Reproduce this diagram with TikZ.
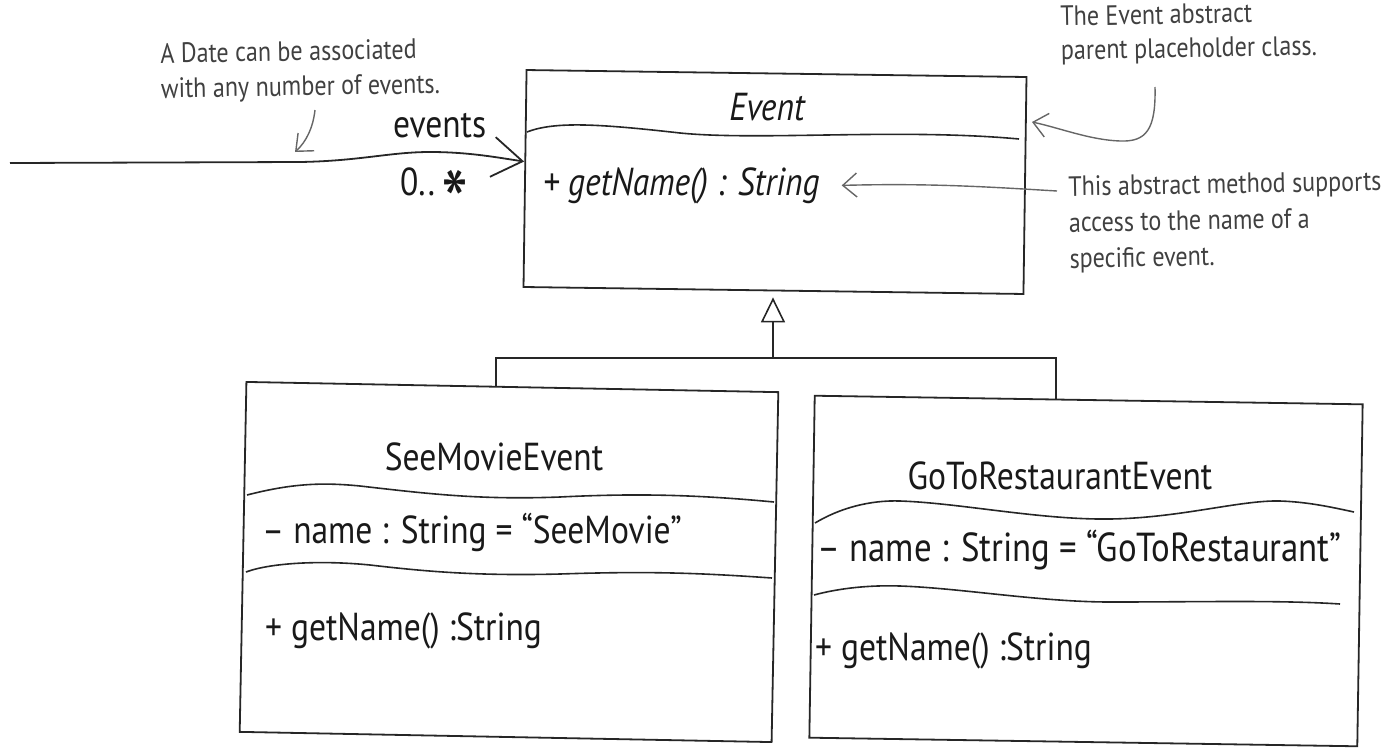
\documentclass[tikz,border=0pt]{standalone}
\usepackage{fontspec}
\usepackage{graphicx}
\setmainfont{PT Sans}[FakeStretch=0.86]
\usetikzlibrary{arrows.meta,calc}

\begin{document}
\begin{tikzpicture}[x=1pt, y=-1pt,
    classbox/.style={draw=black!85, line width=1.8pt, inner sep=0pt},
    sepline/.style={draw=black!85, line width=1.6pt},
    classtext/.style={inner sep=0pt, text=black!90, font=\fontsize{39}{45}\selectfont},
    abstext/.style={classtext, font=\itshape\fontsize{39}{45}\selectfont},
    notetext/.style={inner sep=0pt, anchor=north west, align=left, text=black!75, font=\fontsize{28}{35}\selectfont},
    noteline/.style={draw=black!60, line width=1.4pt, -{Straight Barb[length=14pt,width=24pt]}},
    umlline/.style={draw=black!85, line width=1.8pt},
  ]
  \useasboundingbox (0,0) rectangle (1395,750);

  % Event (abstract)
  \node[classbox, minimum width=500pt, minimum height=217pt, rotate=-0.8] (evt) at (775,182) {};
  \draw[sepline] (527,132) .. controls (555,121) and (600,124) .. (680,133)
    .. controls (760,141) and (900,128) .. (1019,139);
  \node[abstext, anchor=base] (evtname) at (767,120) {Event};
  \node[abstext, anchor=base west] (evtop) at (543,195) {+ getName() : String};

  % SeeMovieEvent
  \node[classbox, minimum width=532pt, minimum height=350pt, rotate=-1.1] (movie) at (509,562) {};
  \draw[sepline] (247,495) .. controls (290,484) and (320,482) .. (360,486)
    .. controls (430,494) and (480,500) .. (560,497) .. controls (640,493) and (700,495) .. (774,502);
  \draw[sepline] (246,572) .. controls (270,563) and (320,560) .. (370,565)
    .. controls (430,572) and (480,576) .. (560,574) .. controls (650,571) and (700,573) .. (772,578);
  \node[classtext, anchor=base] (moviename) at (494,470) {SeeMovieEvent};
  \node[classtext, anchor=base west] (movieattr) at (262,543) {– name : String = “SeeMovie”};
  \node[classtext, anchor=base west] (movieop) at (265,640) {+ getName() :String};

  % GoToRestaurantEvent
  \node[classbox, minimum width=548pt, minimum height=342pt, rotate=-0.9] (rest) at (1086,571) {};
  \draw[sepline] (815,523) .. controls (840,508) and (870,500) .. (900,501)
    .. controls (960,503) and (1040,520) .. (1110,519) .. controls (1180,518) and (1240,500) .. (1280,501)
    .. controls (1310,502) and (1335,508) .. (1354,512);
  \draw[sepline] (814,595) .. controls (840,588) and (870,585) .. (900,586)
    .. controls (960,588) and (1040,602) .. (1110,602) .. controls (1200,602) and (1280,600) .. (1340,604);
  \node[classtext, anchor=base] (restname) at (1060,489) {GoToRestaurantEvent};
  \node[classtext, anchor=base west, font=\fontsize{40.5}{45}\selectfont] (restattr) at (817,561) {– name : String = “GoToRestaurant”};
  \node[classtext, anchor=base west] (restop) at (815,660) {+ getName() :String};

  % generalization
  \coordinate (hub) at (773,358);
  \draw[umlline] ($(movie.north west)!0.47!(movie.north east)$) |- (hub);
  \draw[umlline] ($(rest.north west)!0.44!(rest.north east)$) |- (hub);
  \draw[umlline, shorten >=6pt, -{Triangle[open, length=25pt, width=24pt, line width=1.6pt]}] (hub) -- (hub |- evt.south);

  % association from Date
  \coordinate (datestart) at (10,163);
  \draw[umlline, -{Straight Barb[length=30pt, width=40pt]}] (datestart) -- (300,162)
    .. controls (360,161) and (390,152) .. (430,152) .. controls (470,152) and (500,158) .. ([yshift=17pt]evt.west);
  \node[classtext, anchor=base west] (assocrole) at (393,137) {events};
  \node[classtext, anchor=base west] (assocmult) at (400,195) {0..\,\raisebox{-1.0em}{\scalebox{2.3}{*}}};

  % notes
  \node[notetext, rotate=1] (datenote) at (160,43) {A Date can be associated\\with any number of events.};
  \coordinate (datefoot) at (315,110);
  \coordinate (datetip) at (295,152);
  \draw[noteline] (datefoot) .. controls (313,128) and (306,142) .. (datetip);

  \node[notetext, rotate=1, font=\fontsize{28}{34}\selectfont] (evtnote) at (1060,6) {The Event abstract\\parent placeholder class.};
  \coordinate (evtfoot) at (1155,87);
  \coordinate (evttip) at (1032,122);
  \draw[noteline] (evtfoot) .. controls (1156,130) and (1146,142) .. (1120,141)
    .. controls (1090,140) and (1060,128) .. (evttip);

  \node[notetext, rotate=1, font=\fontsize{28}{36}\selectfont] (opnote) at (1068,176) {This abstract method supports\\access to the name of a\\specific event.};
  \coordinate (opfoot) at (1057,191);
  \draw[noteline] (opfoot) .. controls (990,187) and (930,183) .. ([xshift=22pt]evtop.east);
\end{tikzpicture}
\end{document}
